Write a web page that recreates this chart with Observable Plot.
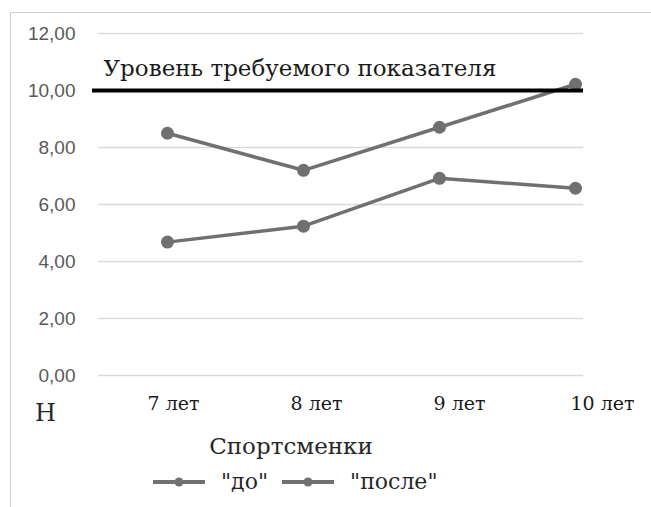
<!DOCTYPE html>
<html>
<head>
<meta charset="utf-8">
<script src="https://cdn.jsdelivr.net/npm/d3@7"></script>
<script src="https://cdn.jsdelivr.net/npm/@observablehq/plot@0.6"></script>
<style>
  body { margin: 0; background: #fff; }
  #chart { position: relative; width: 651px; height: 507px; overflow: hidden; background: #fff; }
  #chart > svg { position: absolute; left: 0; top: 0; }
  .border { position: absolute; left: 10px; top: 12px; width: 700px; height: 600px;
            border: 1.5px solid #d0d0d0; box-sizing: border-box; }
  .legend { position: absolute; left: 153px; top: 469px; display: flex; align-items: center;
            font-size: 22px; color: #262626; }
  .legend svg { display: block; }
</style>
</head>
<body>
<div id="chart"><div class="border"></div></div>
<script>
// Age groups of the athletes (x categories)
const ages = ["7 лет", "8 лет", "9 лет", "10 лет"];
// Series names and their values, in newtons
const seriesNames = ['"до"', '"после"'];
const beforeValues = [4.68, 5.24, 6.92, 6.57];
const afterValues = [8.50, 7.20, 8.71, 10.22];
// Y axis ticks and the required level
const yTicks = [0, 2, 4, 6, 8, 10, 12];
const level = 10;
const levelLabel = "Уровень требуемого показателя";
const xTitle = "Спортсменки";
const unitLabel = "Н";

const seriesValues = [beforeValues, afterValues];
const rows = seriesNames.flatMap((s, i) =>
  ages.map((a, j) => ({series: s, age: a, value: seriesValues[i][j]})));

const fmt = v => d3.format(".2f")(v).replace(".", ",");
const lineColor = "#707070";
// DejaVu Serif carries the Cyrillic glyphs
const serif = "'DejaVu Serif', serif";
const sans = "'Liberation Sans', Arial, sans-serif";
const textColor = "#262626";

const common = {
  width: 651, height: 507,
  marginLeft: 98, marginRight: 68, marginTop: 33, marginBottom: 132,
  style: {background: "transparent", overflow: "visible"}
};

const main = Plot.plot({
  ...common,
  x: {type: "point", domain: ages, range: [167, 575], padding: 0, axis: null},
  y: {domain: [0, 12], axis: null},
  marks: [
    Plot.ruleY(yTicks, {stroke: "#d9d9d9", strokeWidth: 1.5}),
    Plot.axisY(yTicks, {tickFormat: fmt, tickSize: 0, tickPadding: 23, fontSize: 19, label: null,
      fill: "#595959", className: "sans-text"}),
    Plot.line(rows, {x: "age", y: "value", z: "series", stroke: lineColor, strokeWidth: 3.5, clip: "frame"}),
    Plot.dot(rows, {x: "age", y: "value", r: 6.5, fill: lineColor, clip: "frame"}),
    Plot.ruleY([level], {stroke: "#000", strokeWidth: 4, insetLeft: -6}),
    Plot.text([{label: levelLabel, value: level}], {y: "value", text: "label", frameAnchor: "left",
      dx: 5, dy: -15, textAnchor: "start", lineAnchor: "bottom", fontSize: 23, fill: "#1a1a1a",
      className: "serif-text"}),
    Plot.text([unitLabel], {frameAnchor: "bottom-left", dx: -53, dy: 45, textAnchor: "middle",
      lineAnchor: "bottom", fontSize: 24, fill: textColor, className: "serif-text"}),
    Plot.text([xTitle], {frameAnchor: "bottom", dx: -50, dy: 78, lineAnchor: "bottom",
      fontSize: 23, fill: textColor, className: "serif-text"})
  ]
});

// Category labels sit on their own, slightly wider spacing
const labels = Plot.plot({
  ...common,
  x: {type: "point", domain: ages, range: [173, 602], padding: 0, axis: null},
  y: {domain: [0, 12], axis: null},
  marks: [
    Plot.text(ages, {x: d => d, frameAnchor: "bottom", dy: 34, lineAnchor: "bottom",
      fontSize: 19, fill: "#1a1a1a", className: "serif-text"})
  ]
});

const chart = document.getElementById("chart");
chart.appendChild(main);
chart.appendChild(labels);

// Font families as inline styles on the text elements
d3.select(chart).selectAll(".serif-text text").style("font-family", serif);
d3.select(chart).selectAll(".sans-text text").style("font-family", sans);

// Legend
const legend = document.createElement("div");
legend.className = "legend";
legend.style.fontFamily = serif;
seriesNames.forEach((name, i) => {
  const sw = d3.create("svg").attr("width", 52).attr("height", 14)
    .style("margin-left", i ? "14px" : "0").style("margin-right", "16px");
  sw.append("line").attr("x1", 0).attr("x2", 52).attr("y1", 7).attr("y2", 7)
    .attr("stroke", lineColor).attr("stroke-width", 4);
  sw.append("circle").attr("cx", 26).attr("cy", 7).attr("r", 4.5).attr("fill", lineColor);
  legend.appendChild(sw.node());
  const t = document.createElement("span");
  t.textContent = name;
  legend.appendChild(t);
});
chart.appendChild(legend);
</script>
</body>
</html>
